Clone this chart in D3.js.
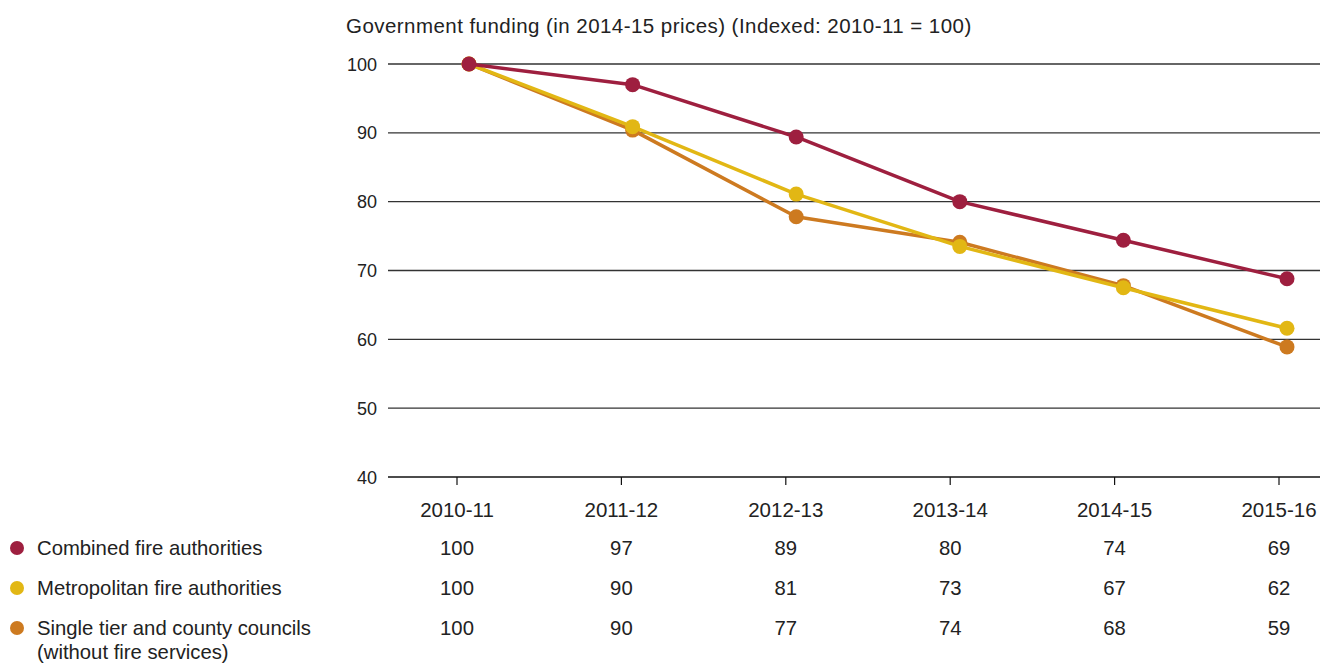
<!DOCTYPE html>
<html><head><meta charset="utf-8">
<script src="https://cdn.jsdelivr.net/npm/d3@7"></script>
<style>body{margin:0;background:#fff;} text{font-family:"Liberation Sans",Arial,sans-serif;fill:#222;}</style>
</head><body>
<svg id="c" width="1320" height="664"></svg>
<script>
const years = ["2010-11","2011-12","2012-13","2013-14","2014-15","2015-16"];
const yTicks = [40,50,60,70,80,90,100];
const seriesNames = ["Combined fire authorities","Metropolitan fire authorities","Single tier and county councils"];
const seriesColors = ["#9e1f3f","#e2b714","#cd7a20"];
const combined = [100, 97.0, 89.4, 80.0, 74.4, 68.8];
const metropolitan = [100, 90.9, 81.1, 73.5, 67.5, 61.6];
const singleTier = [100, 90.4, 77.8, 74.1, 67.8, 58.9];
const combinedLabels = ["100","97","89","80","74","69"];
const metropolitanLabels = ["100","90","81","73","67","62"];
const singleTierLabels = ["100","90","77","74","68","59"];
const title = "Government funding (in 2014-15 prices) (Indexed: 2010-11 = 100)";

const svg = d3.select("#c");
const y = d3.scaleLinear().domain([40,100]).range([477,64]);
const xTick = d3.scalePoint().domain(years).range([457,1279]);
const xPt = d3.scalePoint().domain(years).range([469,1287]);
const gridL = 388, gridR = 1320;

svg.append("text").attr("x",346).attr("y",33).attr("font-size",20.5).attr("letter-spacing",0.45).text(title);

// gridlines
svg.append("g").selectAll("line").data(yTicks).join("line")
  .attr("x1",gridL).attr("x2",gridR).attr("y1",d=>y(d)).attr("y2",d=>y(d))
  .attr("stroke",d=>d===40?"#111":"#333").attr("stroke-width",1.3);
svg.append("g").selectAll("text").data(yTicks).join("text")
  .attr("x",377).attr("y",d=>y(d)+6.5).attr("text-anchor","end").attr("font-size",18).text(d=>d);

// x ticks
svg.append("g").selectAll("line").data(years).join("line")
  .attr("x1",d=>xTick(d)).attr("x2",d=>xTick(d)).attr("y1",477).attr("y2",485)
  .attr("stroke","#111").attr("stroke-width",1.2);
svg.append("g").selectAll("text").data(years).join("text")
  .attr("x",d=>xTick(d)).attr("y",517).attr("text-anchor","middle").attr("font-size",20.5).text(d=>d);

const series = [combined, metropolitan, singleTier];
const line = d3.line().x((d,i)=>xPt(years[i])).y(d=>y(d));
[2,1,0].forEach(k=>{
  const g = svg.append("g");
  g.append("path").datum(series[k]).attr("d",line).attr("fill","none")
    .attr("stroke",seriesColors[k]).attr("stroke-width",3.5).attr("stroke-linejoin","round");
  g.selectAll("circle").data(series[k]).join("circle")
    .attr("cx",(d,i)=>xPt(years[i])).attr("cy",d=>y(d)).attr("r",7.5).attr("fill",seriesColors[k]);
});

// legend table
const labels = [combinedLabels, metropolitanLabels, singleTierLabels];
const rowY = [548,588,628];
seriesNames.forEach((n,k)=>{
  svg.append("circle").attr("cx",17).attr("cy",rowY[k]).attr("r",7).attr("fill",seriesColors[k]);
  svg.append("text").attr("x",37).attr("y",rowY[k]+7).attr("font-size",20.3).text(n);
  svg.append("g").selectAll("text").data(labels[k]).join("text")
    .attr("x",(d,i)=>xTick(years[i])).attr("y",rowY[k]+7).attr("text-anchor","middle").attr("font-size",20.3).text(d=>d);
});
svg.append("text").attr("x",37).attr("y",659).attr("font-size",20.3).text("(without fire services)");
</script>
</body></html>
